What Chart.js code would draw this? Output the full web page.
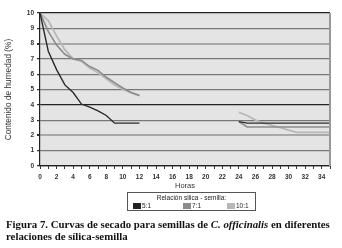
<!DOCTYPE html>
<html>
<head>
<meta charset="utf-8">
<script src="https://cdn.jsdelivr.net/npm/chart.js@4"></script>
<style>
  body { margin: 0; background: #fff; width: 342px; height: 248px; position: relative; overflow: hidden; }
  #wrap { position: absolute; left: 0; top: 0; width: 342px; height: 196px; }
  #legend { position: absolute; left: 127px; top: 192px; width: 129px; height: 19px; border: 1px solid #555;
    font: 6.5px "Liberation Sans", Arial, sans-serif; color: #222; box-sizing: border-box; }
  #legend .t { text-align: center; margin-top: 1px; }
  #legend .it { position: absolute; top: 9px; }
  #legend .it span { display: inline-block; width: 8px; height: 6px; vertical-align: -1px; margin-right: 1px; }
  #cap { position: absolute; left: 6px; top: 219px; font: bold 10.8px "Liberation Serif", "Times New Roman", serif; color: #111; line-height: 11.5px; white-space: nowrap; }
</style>
</head>
<body>
<div id="wrap"><canvas id="c"></canvas></div>
<div id="legend">
  <div class="t">Relación silica - semilla:</div>
  <div class="it" style="left:5px"><span style="background:#222"></span>5:1</div>
  <div class="it" style="left:55px"><span style="background:#8c8c8c"></span>7:1</div>
  <div class="it" style="left:99px"><span style="background:#b8b8b8"></span>10:1</div>
</div>
<div id="cap">Figura 7. Curvas de secado para semillas de <i>C. officinalis</i> en diferentes<br>relaciones de sílica-semilla</div>
<script>
//Horas de medición (dos tramos, hueco entre 12 y 24 h)
const hours1 = [0, 1, 2, 3, 4, 5, 6, 7, 8, 9, 10, 11, 12];
const hours2 = [24, 25, 26, 27, 28, 29, 30, 31, 32, 33, 34, 35];

//Contenido de humedad (%) por relación sílica-semilla
const r5_a = [10, 7.5, 6.3, 5.3, 4.8, 4.05, 3.85, 3.6, 3.3, 2.8, 2.8, 2.8, 2.8];
const r5_b = [2.9, 2.8, 2.8, 2.8, 2.8, 2.8, 2.8, 2.8, 2.8, 2.8, 2.8, 2.8];
const r7_a = [10, 8.8, 7.9, 7.3, 7.0, 6.9, 6.5, 6.25, 5.8, 5.45, 5.1, 4.8, 4.6];
const r7_b = [2.9, 2.55, 2.55, 2.55, 2.55, 2.55, 2.55, 2.55, 2.55, 2.55, 2.55, 2.55];
const r10_a = [10, 9.5, 8.5, 7.6, 7.0, 6.85, 6.4, 6.1, 5.7, 5.3, 5.0, 4.8, 4.6];
const r10_b = [3.5, 3.3, 3.0, 2.8, 2.65, 2.5, 2.35, 2.2, 2.2, 2.2, 2.2, 2.2];

const xTicksMax = 35;
const yTicks = [0, 1, 2, 3, 4, 5, 6, 7, 8, 9, 10];

function points(xa, ya, xb, yb) {
  const out = xa.map((x, i) => ({ x, y: ya[i] }));
  out.push({ x: 18, y: null });
  return out.concat(xb.map((x, i) => ({ x, y: yb[i] })));
}

//Colores de las líneas de la rejilla
function gridColor(v) {
  if (v === 10 || v === 4 || v === 0) return "#222";
  if (v === 8 || v === 2) return "#a8a8a8";
  return "#777";
}
function gridWidth(v) { return (v === 8 || v === 2) ? 2 : 1.2; }

const plotBg = {
  id: "plotBg",
  beforeDraw(chart) {
    const a = chart.chartArea, ctx = chart.ctx;
    ctx.save();
    ctx.fillStyle = "#e4e4e4";
    ctx.fillRect(a.left, a.top, a.right - a.left, a.bottom - a.top);
    ctx.restore();
  },
  afterDraw(chart) {
    const a = chart.chartArea, ctx = chart.ctx;
    ctx.save();
    ctx.strokeStyle = "#999";
    ctx.lineWidth = 2;
    ctx.beginPath();
    ctx.moveTo(a.right, a.top);
    ctx.lineTo(a.right, a.bottom);
    ctx.stroke();
    ctx.restore();
  }
};

const tickFont = { family: "'Liberation Sans', Arial, sans-serif", size: 6.5, weight: "bold" };

new Chart(document.getElementById("c"), {
  type: "line",
  data: {
    datasets: [
      { label: "5:1", data: points(hours1, r5_a, hours2, r5_b), borderColor: "#2a2a2a", borderWidth: 1.4 },
      { label: "7:1", data: points(hours1, r7_a, hours2, r7_b), borderColor: "#8c8c8c", borderWidth: 1.6 },
      { label: "10:1", data: points(hours1, r10_a, hours2, r10_b), borderColor: "#b8b8b8", borderWidth: 1.8 }
    ]
  },
  options: {
    responsive: true, maintainAspectRatio: false, animation: false,
    spanGaps: false,
    elements: { point: { radius: 0 }, line: { tension: 0 } },
    layout: { padding: { top: 13, right: 12, bottom: 6, left: 0 } },
    plugins: { legend: { display: false }, tooltip: { enabled: false } },
    scales: {
      x: {
        type: "linear", min: 0, max: xTicksMax,
        afterFit: s => { s.height = 24; },
        grid: { drawOnChartArea: false, drawTicks: true, tickLength: 3, color: "#333" },
        border: { color: "#222", width: 1.2 },
        ticks: {
          stepSize: 1, autoSkip: false, maxRotation: 0, padding: 4, color: "#333", font: tickFont,
          callback: v => (v % 2 === 0 && v < 35) ? String(v) : ""
        },
        title: { display: true, text: "Horas", color: "#333", padding: { top: 0, bottom: 0 },
          font: { family: "'Liberation Sans', Arial, sans-serif", size: 7.5 } }
      },
      y: {
        min: 0, max: 10,
        afterFit: s => { s.width = 40; },
        afterBuildTicks: s => { s.ticks = yTicks.map(v => ({ value: v })); },
        grid: {
          color: c => gridColor(c.tick.value),
          lineWidth: c => gridWidth(c.tick.value),
          tickLength: 3, tickColor: "#333"
        },
        border: { color: "#222", width: 1.2 },
        ticks: { padding: 3, color: "#333", font: tickFont },
        title: { display: true, text: "Contenido de humedad (%)", color: "#333", padding: { top: 4, bottom: 0 },
          font: { family: "'Liberation Sans', Arial, sans-serif", size: 8.3 } }
      }
    }
  },
  plugins: [plotBg]
});
</script>
</body>
</html>
